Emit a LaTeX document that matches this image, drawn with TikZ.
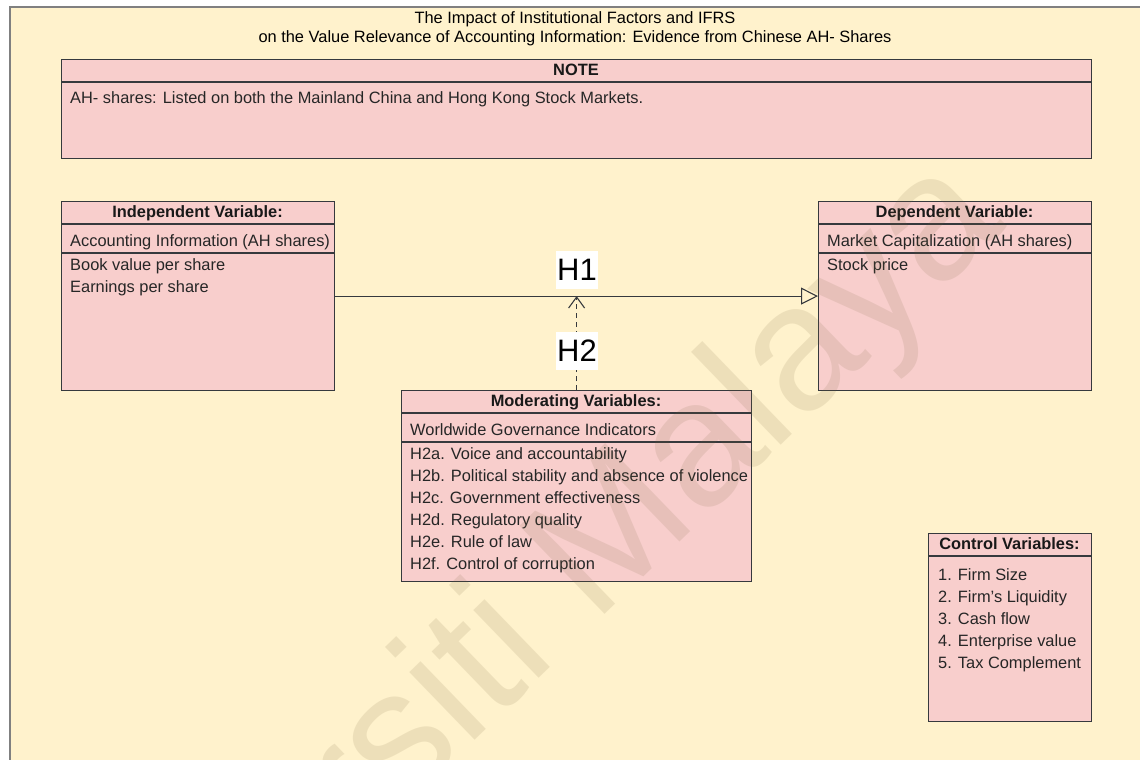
\documentclass[tikz,border=0pt]{standalone}
\usepackage{fontspec}
\setmainfont{Liberation Sans}
\usetikzlibrary{arrows.meta}
\definecolor{bgyel}{HTML}{FFF2CC}
\definecolor{boxpink}{HTML}{F8CECC}
\definecolor{boxline}{HTML}{36393D}
\definecolor{wmark}{RGB}{120,100,60}
\begin{document}
\begin{tikzpicture}[x=1pt,y=-1pt,
  box/.style={draw=boxline, fill=boxpink, line width=1.2pt, inner sep=0pt, anchor=north west},
  divider/.style={draw=boxline, line width=1.2pt},
  txt/.style={anchor=base west, inner sep=0pt, font=\fontsize{16.4}{19}\selectfont, text=black!85},
  hdr/.style={anchor=base, inner sep=0pt, font=\fontsize{16.4}{19}\selectfont\bfseries, text=black!90},
  lbl/.style={fill=white, inner sep=0pt, minimum width=42pt, minimum height=38pt, font=\fontsize{31}{31}\selectfont},
  conn/.style={draw=boxline, line width=1.1pt}]
\useasboundingbox (0,0) rectangle (1140,760);
% background frame
\fill[white] (0,0) rectangle (1140,760);
\fill[bgyel] (10,7) rectangle (1140,760);
\draw[gray, line width=1.5pt] (10,760) -- (10,7) -- (1140,7);
% title
\node[anchor=base, inner sep=0pt, font=\fontsize{16.4}{19}\selectfont] (title1) at (575,24) {The Impact of Institutional Factors and IFRS};
\node[anchor=base, inner sep=0pt, font=\fontsize{16.4}{19}\selectfont] (title2) at (575,43) {on the Value Relevance of Accounting Information: Evidence from Chinese AH- Shares};
% NOTE
\node[box, minimum width=1030pt, minimum height=99pt] (note) at (61,59) {};
\draw[divider] (61,82) -- (1091,82);
\node[hdr] (noteh) at (576,75.5) {NOTE};
\node[txt] (notet) at (70,103.5) {AH- shares: Listed on both the Mainland China and Hong Kong Stock Markets.};
% Independent
\node[box, minimum width=273pt, minimum height=189pt] (indep) at (61,201) {};
\draw[divider] (61,224) -- (334,224);
\draw[divider] (61,253) -- (334,253);
\node[hdr] (indeph) at (197.5,217.5) {Independent Variable:};
\node[txt] (indep1) at (70,246.5) {Accounting Information (AH shares)};
\node[txt] (indep2) at (70,270.5) {Book value per share};
\node[txt] (indep3) at (70,292.5) {Earnings per share};
% Dependent
\node[box, minimum width=273pt, minimum height=189pt] (dep) at (818,201) {};
\draw[divider] (818,224) -- (1091,224);
\draw[divider] (818,253) -- (1091,253);
\node[hdr] (deph) at (954.5,217.5) {Dependent Variable:};
\node[txt] (dep1) at (827,246.5) {Market Capitalization (AH shares)};
\node[txt] (dep2) at (827,270.5) {Stock price};
% Moderating
\node[box, minimum width=350pt, minimum height=191pt] (mod) at (401,390) {};
\draw[divider] (401,413) -- (751,413);
\draw[divider] (401,442) -- (751,442);
\node[hdr] (modh) at (576,406.5) {Moderating Variables:};
\node[txt] (mod0) at (410,435.5) {Worldwide Governance Indicators};
\node[txt] (moda) at (410,459.5) {H2a. Voice and accountability};
\node[txt] (modb) at (410,481.5) {H2b. Political stability and absence of violence};
\node[txt] (modc) at (410,503.5) {H2c. Government effectiveness};
\node[txt] (modd) at (410,525.5) {H2d. Regulatory quality};
\node[txt] (mode) at (410,547.5) {H2e. Rule of law};
\node[txt] (modf) at (410,569.5) {H2f. Control of corruption};
% Control
\node[box, minimum width=163pt, minimum height=188pt] (ctrl) at (928,533) {};
\draw[divider] (928,556) -- (1091,556);
\node[hdr] (ctrlh) at (1009.5,549.5) {Control Variables:};
\node[txt] (ctrl1) at (938,580.5) {1. Firm Size};
\node[txt] (ctrl2) at (938,602.5) {2. Firm's Liquidity};
\node[txt] (ctrl3) at (938,624.5) {3. Cash flow};
\node[txt] (ctrl4) at (938,646.5) {4. Enterprise value};
\node[txt] (ctrl5) at (938,668.5) {5. Tax Complement};
% connectors
\draw[conn, -{Triangle[open, length=17pt, width=17pt]}] (indep.east) -- (dep.west);
\coordinate (hit) at (mod.north |- indep.east);
\draw[conn, dash pattern=on 5pt off 4pt, -{Straight Barb[length=11pt, width=16pt]}] (mod.north) -- (hit);
\node[lbl] (h1) at (577,270) {H1};
\node[lbl] (h2) at (577,351) {H2};
% watermark
\node[rotate=44, anchor=base east, inner sep=0pt, text=wmark, text opacity=0.13, font=\fontsize{178}{178}\selectfont] (wm) at (1008,226) {Universiti Malaya};
\end{tikzpicture}
\end{document}
